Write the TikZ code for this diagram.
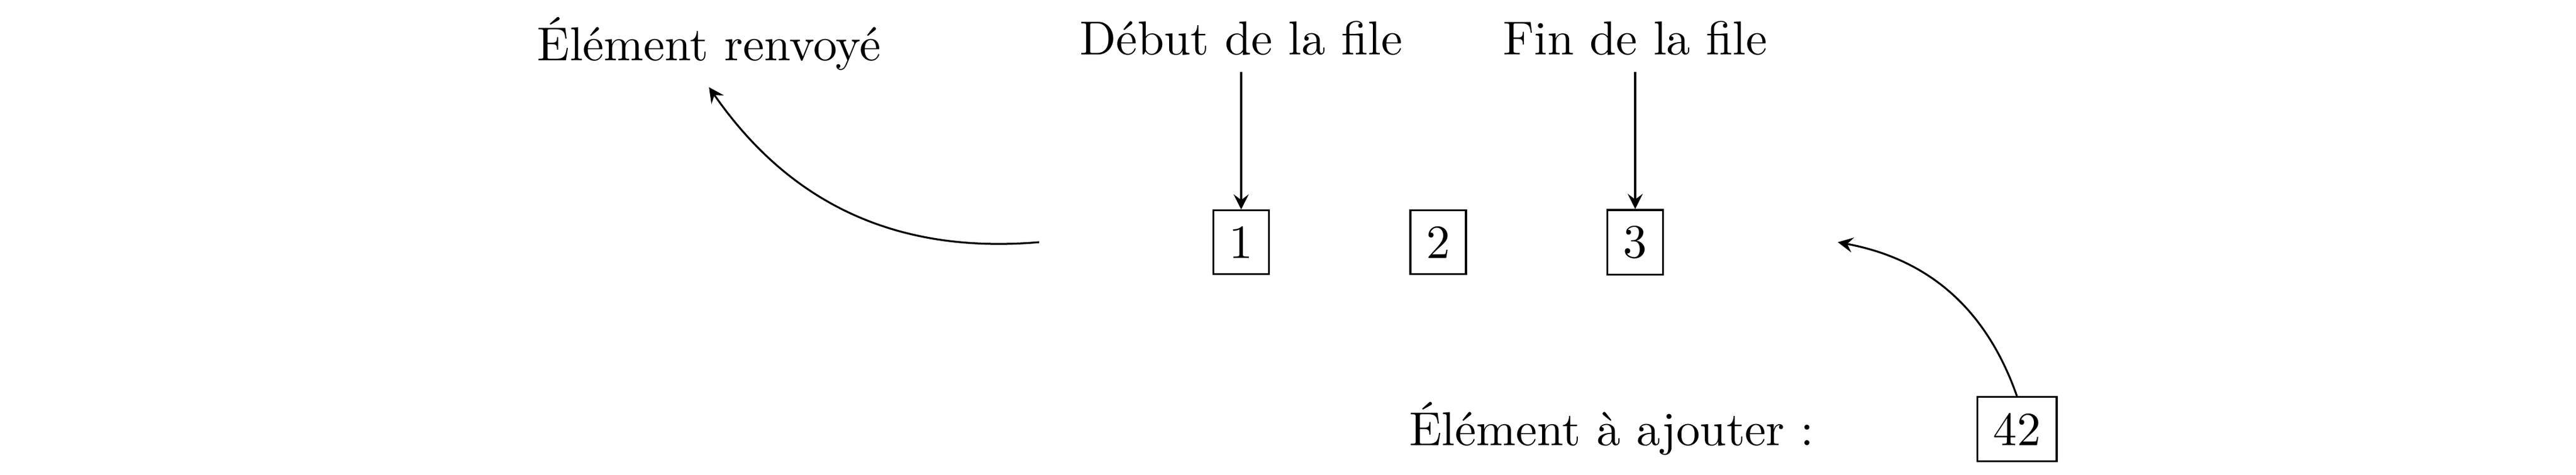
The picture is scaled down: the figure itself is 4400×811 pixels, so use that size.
\documentclass[tikz,border=0pt]{standalone}
\begin{document}
\begin{tikzpicture}[x=0.12285pt,y=0.12285pt,
  box/.style={draw, inner sep=3.333pt},
  lab/.style={inner sep=3.333pt},
  arr/.style={-stealth}]
\useasboundingbox (0,0) rectangle (4400,811);
\node[box] (n1) at (2120,397) {1};
\node[box] (n2) at (2456.5,397) {2};
\node[box] (n3) at (2793,397) {3};
\node[lab] (deb) at (2120,746) {Début de la file};
\node[lab] (fin) at (2793,746) {Fin de la file};
\node[lab] (ren) at (1211,736) {Élément renvoyé};
\node[lab, anchor=base] (ajt) at (2753,50) {Élément à ajouter :};
\node[box, anchor=base] (n42) at (3445,50) {42};
\coordinate (sortie) at (1775,397);
\coordinate (entree) at (3139,397);
\draw[arr] (deb) -- (n1);
\draw[arr] (fin) -- (n3);
\draw[arr] (sortie) to[bend left] (ren.south);
\draw[arr] (n42.north) to[bend right] (entree);
\end{tikzpicture}
\end{document}
